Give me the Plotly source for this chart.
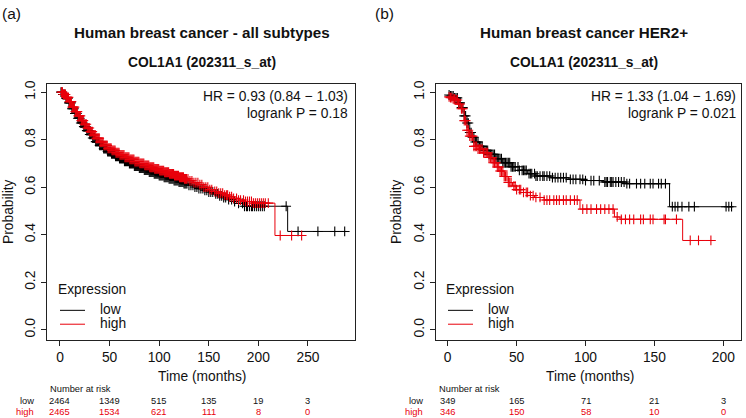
import numpy as np
import plotly.graph_objects as go

# ---------------- data ----------------
# Panel (a): all subtypes
a_low_t = [0, 3, 6, 9, 12, 15, 18, 21, 24, 27, 30, 33, 36, 40, 44, 48, 52, 56, 60, 65, 70, 75, 80, 85, 90, 95,
           100, 105, 110, 115, 120, 125, 130, 135, 140, 145, 150, 155, 160, 165, 170, 175, 180, 186, 229.5, 289]
a_low_s = [1.0, 0.99, 0.975, 0.955, 0.93, 0.91, 0.89, 0.87, 0.855, 0.838, 0.822, 0.807, 0.792, 0.776, 0.762, 0.75,
           0.74, 0.73, 0.72, 0.709, 0.699, 0.689, 0.68, 0.672, 0.664, 0.656, 0.649, 0.642, 0.635, 0.628, 0.622,
           0.615, 0.608, 0.601, 0.594, 0.587, 0.58, 0.572, 0.564, 0.556, 0.548, 0.54, 0.532, 0.52, 0.414, 0.414]
a_low_cens = [1, 2, 3, 4, 5, 6, 7, 8, 9, 10, 11, 12, 13, 14, 15, 16, 17, 18, 19, 20, 21, 22, 23, 24, 25, 26, 27,
              28, 29, 30, 31, 32, 33, 34, 35, 36, 37, 38, 39, 40, 41, 42, 43, 44, 45, 46, 47, 48, 49, 50, 51, 52,
              53, 54, 55, 56, 57, 58, 59, 60, 61, 62, 63, 64, 65, 66, 67, 68, 69, 70, 71, 72, 73, 74, 75, 76, 77,
              78, 79, 80, 81, 82, 83, 84, 85, 86, 87, 88, 89, 90, 91, 92, 93, 94, 95, 96, 97, 98, 99, 100, 101,
              102, 103, 104, 105, 106, 107, 108, 109, 110, 111, 112, 113, 114, 115, 116, 117, 118, 119, 120, 121,
              122, 123, 124, 125, 126, 127, 128, 130, 132, 134, 136, 138, 140, 142, 144, 146, 148, 150, 152, 154,
              157, 159, 161, 163, 165, 167, 170, 173, 176, 180, 184, 186, 188, 189, 191, 193, 194, 196, 198, 200,
              202, 204, 206, 228, 240, 260, 277, 287]

a_high_t = [0, 3, 6, 9, 12, 15, 18, 21, 24, 27, 30, 33, 36, 40, 44, 48, 52, 56, 60, 65, 70, 75, 80, 85, 90, 95,
            100, 105, 110, 115, 120, 125, 130, 135, 140, 145, 150, 155, 160, 165, 170, 175, 180, 186, 195, 216.7, 245]
a_high_s = [1.0, 0.99, 0.978, 0.96, 0.937, 0.918, 0.9, 0.88, 0.865, 0.849, 0.834, 0.82, 0.806, 0.79, 0.776, 0.764,
            0.755, 0.745, 0.736, 0.726, 0.717, 0.708, 0.7, 0.692, 0.684, 0.677, 0.67, 0.663, 0.656, 0.649, 0.642,
            0.635, 0.627, 0.619, 0.611, 0.6, 0.59, 0.582, 0.575, 0.567, 0.56, 0.553, 0.546, 0.54, 0.533, 0.397, 0.397]
a_high_cens = [1.5, 2.5, 3.5, 4.5, 5.5, 6.5, 7.5, 8.5, 9.5, 10.5, 11.5, 12.5, 13.5, 14.5, 15.5, 16.5, 17.5, 18.5,
               19.5, 20.5, 21.5, 22.5, 23.5, 24.5, 25.5, 26.5, 27.5, 28.5, 29.5, 30.5, 31.5, 32.5, 33.5, 34.5, 35.5,
               36.5, 37.5, 38.5, 39.5, 40.5, 41.5, 42.5, 43.5, 44.5, 45.5, 46.5, 47.5, 48.5, 49.5, 50.5, 51.5, 52.5,
               53.5, 54.5, 55.5, 56.5, 57.5, 58.5, 59.5, 60.5, 61.5, 62.5, 63.5, 64.5, 65.5, 66.5, 67.5, 68.5, 69.5,
               70.5, 71.5, 72.5, 73.5, 74.5, 75.5, 76.5, 77.5, 78.5, 79.5, 80.5, 81.5, 82.5, 83.5, 84.5, 85.5, 86.5,
               87.5, 88.5, 89.5, 90.5, 91.5, 92.5, 93.5, 94.5, 95.5, 96.5, 97.5, 98.5, 99.5, 100.5, 101.5, 102.5,
               103.5, 104.5, 105.5, 106.5, 107.5, 108.5, 109.5, 110.5, 111.5, 112.5, 113.5, 114.5, 115.5, 116.5,
               117.5, 118.5, 119.5, 120.5, 121.5, 122.5, 123.5, 124.5, 125.5, 126.5, 127.5, 129, 131, 133, 135, 137,
               139, 141, 143, 145, 147, 149, 151, 153, 156, 158, 160, 162, 164, 166, 168, 169, 171, 173, 175, 178,
               180, 182, 185, 187, 189, 191, 193, 195, 197, 199, 201, 203, 205, 207, 210, 222, 233.5, 243.6]

# Panel (b): HER2+
b_low_t = [0, 2, 5, 8, 10, 12, 14, 16, 18, 20, 23, 26, 30, 35, 40, 46, 52, 58, 64, 75, 88, 100, 112, 130, 161, 207]
b_low_s = [0.988, 0.984, 0.976, 0.955, 0.935, 0.90, 0.87, 0.83, 0.81, 0.79, 0.772, 0.755, 0.738, 0.72, 0.703,
           0.686, 0.671, 0.657, 0.647, 0.64, 0.633, 0.628, 0.622, 0.615, 0.518, 0.518]
b_low_cens = [1, 2, 3, 4, 5, 6, 7, 8, 9, 10, 11, 12, 13, 14, 15, 16, 17, 18, 19, 20, 21, 22, 23, 24, 25, 26, 27,
              28, 29, 30, 31, 32, 33, 34, 35, 36, 37, 38, 39, 40, 41, 42, 43, 44, 45, 46, 47, 48, 49, 51, 52, 54,
              55, 56, 57, 59, 60, 61, 63, 64, 65, 67, 69, 70, 72, 74, 76, 78, 80, 82, 84, 86, 89, 91, 93, 96, 98,
              100, 104, 106, 110, 114, 115, 116, 118, 119, 120, 122, 124, 126, 128, 130, 132, 137, 140, 143, 147,
              149, 153, 155, 158, 163, 165, 167, 170, 175, 179, 202, 204, 206]

b_high_t = [0, 2, 4, 6, 8, 10, 12, 14, 16, 19, 22, 26, 30, 33, 36, 38, 41, 44, 47, 50, 55, 60, 63, 70, 96, 121,
            125, 170.5, 192]
b_high_s = [0.98, 0.977, 0.972, 0.967, 0.95, 0.93, 0.88, 0.84, 0.815, 0.772, 0.76, 0.745, 0.725, 0.703, 0.685,
            0.668, 0.645, 0.62, 0.605, 0.59, 0.578, 0.565, 0.557, 0.546, 0.508, 0.475, 0.465, 0.376, 0.376]
b_high_cens = [1, 2, 3, 4, 5, 6, 7, 8, 9, 10, 11, 12, 13, 14, 15, 16, 17, 18, 19, 20, 21, 22, 23, 24, 25, 26, 27,
               28, 29, 30, 31, 32, 33, 34, 35, 36, 37, 38, 39, 40, 41, 42, 43, 44, 45, 46, 48, 49, 50, 52, 53, 55,
               57, 58, 60, 62, 64, 67, 70, 72, 74, 77, 79, 81, 84, 86, 89, 92, 94, 98, 101, 104, 108, 111, 114,
               117, 120, 123, 126, 129, 132, 135, 140, 142, 147, 149, 157, 158, 166, 176, 182, 191]

# axis ticks and number-at-risk tables
a_ticks = [0, 50, 100, 150, 200, 250]
b_ticks = [0, 50, 100, 150, 200]
y_ticks = [0.0, 0.2, 0.4, 0.6, 0.8, 1.0]
a_risk_low = [2464, 1349, 515, 135, 19, 3]
a_risk_high = [2465, 1534, 621, 111, 8, 0]
b_risk_low = [349, 165, 71, 21, 3]
b_risk_high = [346, 150, 58, 10, 0]

a_hr = ["HR = 0.93 (0.84 \u2212 1.03)", "logrank P = 0.18"]
b_hr = ["HR = 1.33 (1.04 \u2212 1.69)", "logrank P = 0.021"]

# ---------------- style ----------------
W, H = 746, 418
FONT = "Liberation Sans, Arial, Helvetica, sans-serif"
BLACK = "#000000"
RED = "#E8000B"
AX = "#222222"
FS = 13.8


def px(x):
    return x / W


def py(y):
    return (H - y) / H


def step_at(ts, ss, t):
    ts = np.asarray(ts, float)
    ss = np.asarray(ss, float)
    idx = np.searchsorted(ts, np.asarray(t, float), side="right") - 1
    idx = np.clip(idx, 0, len(ss) - 1)
    return ss[idx]


fig = go.Figure()


def add_curve(ts, ss, cens, color, xa, ya):
    fig.add_trace(go.Scatter(x=ts, y=ss, mode="lines", line=dict(color=color, width=1, shape="hv"),
                             xaxis=xa, yaxis=ya, showlegend=False, hoverinfo="skip"))
    fig.add_trace(go.Scatter(x=cens, y=step_at(ts, ss, cens), mode="markers",
                             marker=dict(symbol="cross-thin", size=7, line=dict(color=color, width=1.1)),
                             xaxis=xa, yaxis=ya, showlegend=False, hoverinfo="skip"))


add_curve(a_low_t, a_low_s, a_low_cens, BLACK, "x", "y")
add_curve(a_high_t, a_high_s, a_high_cens, RED, "x", "y")
add_curve(b_low_t, b_low_s, b_low_cens, BLACK, "x2", "y2")
add_curve(b_high_t, b_high_s, b_high_cens, RED, "x2", "y2")

common_x = dict(showgrid=False, zeroline=False, showline=True, linecolor=AX, linewidth=1, mirror=True,
                ticks="outside", ticklen=5, tickcolor=AX, tickwidth=1,
                tickfont=dict(family=FONT, size=FS, color="#111"))
common_y = dict(common_x, tickvals=y_ticks, ticktext=["%.1f" % v for v in y_ticks], tickangle=-90,
                range=[(329 - 339) / 240, (329 - 81) / 240])

fig.update_layout(
    width=W, height=H, margin=dict(l=0, r=0, t=0, b=0),
    paper_bgcolor="white", plot_bgcolor="white", showlegend=False,
    xaxis=dict(common_x, domain=[px(47), px(355)], range=[-13.1, 297.4], tickvals=a_ticks, anchor="y"),
    yaxis=dict(common_y, domain=[py(339), py(81)], anchor="x"),
    xaxis2=dict(common_x, domain=[px(436), px(741)], range=[-8.49, 212.84], tickvals=b_ticks, anchor="y2"),
    yaxis2=dict(common_y, domain=[py(339), py(81)], anchor="x2"),
)

ann = []
shapes = []


def text(x, y, s, size=FS, color="#111", xanchor="center", bold=False, xref="paper", angle=0):
    ann.append(dict(x=x if xref != "paper" else px(x), y=py(y), xref=xref, yref="paper", text=s,
                    showarrow=False, xanchor=xanchor, yanchor="middle", textangle=angle,
                    font=dict(family=FONT, size=size, color=color, weight="bold" if bold else "normal")))


panels = [
    dict(label="(a)", lx=0, off=0, title="Human breast cancer - all subtypes", tx=202, hr=a_hr, hrx=350,
         ticks=a_ticks, rl=a_risk_low, rh=a_risk_high, xref="x", box=47, timex=202, proby=9),
    dict(label="(b)", lx=373, off=388, title="Human breast cancer HER2+", tx=584, hr=b_hr, hrx=738,
         ticks=b_ticks, rl=b_risk_low, rh=b_risk_high, xref="x2", box=436, timex=590, proby=397),
]

for p in panels:
    text(p["lx"], 9.5, p["label"], size=15.5, xanchor="left")
    text(p["tx"], 29, p["title"], size=15.2, bold=True, color="#111")
    text(p["tx"], 59, "COL1A1 (202311_s_at)", size=13.8, bold=True, color="#111")
    text(p["hrx"], 93.5, p["hr"][0], xanchor="right")
    text(p["hrx"], 110.5, p["hr"][1], xanchor="right")
    text(p["proby"], 210, "Probability", angle=-90)
    text(p["timex"], 376, "Time (months)")
    # legend
    o = p["off"]
    text(55.7 + o, 288, "Expression", xanchor="left")
    text(98 + o, 308.5, "low", xanchor="left")
    text(98 + o, 322.5, "high", xanchor="left")
    for yy, col in [(309.3, BLACK), (323.3, RED)]:
        shapes.append(dict(type="line", xref="paper", yref="paper", x0=px(60 + o), x1=px(85 + o),
                           y0=py(yy), y1=py(yy), line=dict(color=col, width=1)))
    # number at risk
    text(p["box"] + 1, 389, "Number at risk", size=9.3, xanchor="left")
    text(p["box"] - 11, 401, "low", size=9.3, xanchor="right")
    text(p["box"] - 11, 412, "high", size=9.3, xanchor="right", color=RED)
    for t, lo, hi in zip(p["ticks"], p["rl"], p["rh"]):
        text(t, 401, str(lo), size=9.3, xref=p["xref"])
        text(t, 412, str(hi), size=9.3, xref=p["xref"], color=RED)

fig.update_layout(annotations=ann, shapes=shapes)
fig.write_html("out.html", config={"displayModeBar": False},
               post_script="document.body.style.margin='0px';document.body.style.padding='0px';")
